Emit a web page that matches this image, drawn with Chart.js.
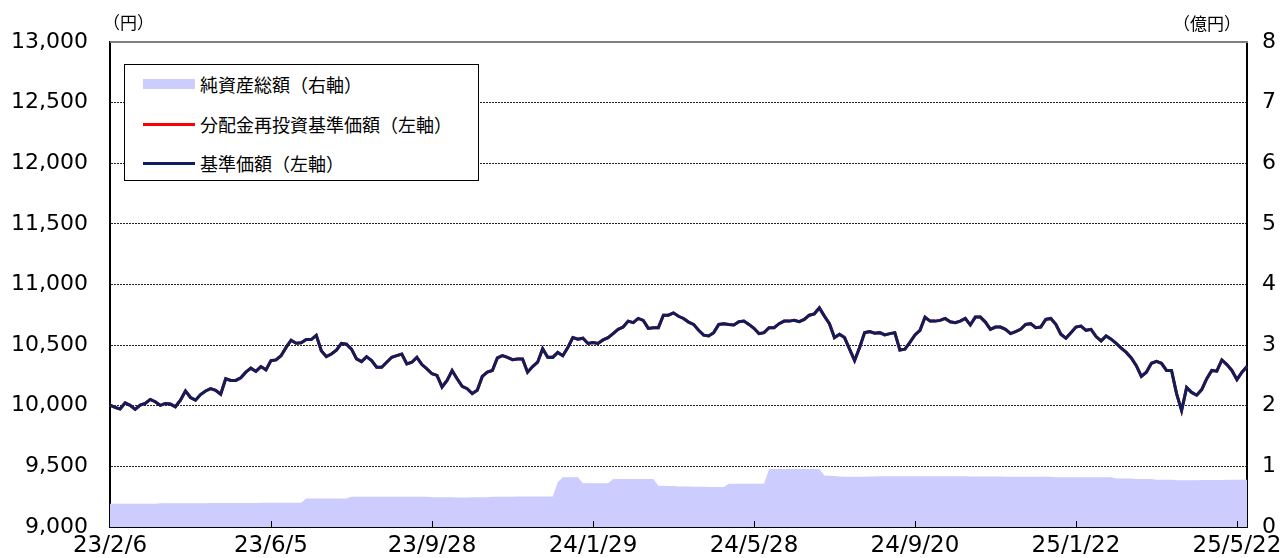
<!DOCTYPE html>
<html lang="ja">
<head>
<meta charset="utf-8">
<title>基準価額・純資産総額の推移</title>
<script src="https://cdn.jsdelivr.net/npm/chart.js@4/dist/chart.umd.min.js"></script>
<style>
  body { margin: 0; background: #fff; }
  #wrap { position: relative; width: 1282px; height: 558px; }
  .unit { position: absolute; font: 17px "Noto Sans CJK JP", sans-serif; color: #000; }
  #legend {
    position: absolute; left: 124px; top: 64px; width: 353px; height: 115px;
    border: 1px solid #000; background: #fff;
    font: 18px "Noto Sans CJK JP", sans-serif; color: #000;
  }
  #legend .row { position: absolute; left: 18px; height: 26px; display: flex; align-items: center; }
  #legend .sw { width: 52px; margin-right: 5px; }
</style>
</head>
<body>
<div id="wrap">
  <canvas id="chart" width="1282" height="558"></canvas>
  <div class="unit" style="left:103px; top:9px;">（円）</div>
  <div class="unit" style="left:1173px; top:10px;">（億円）</div>
  <div id="legend"></div>
</div>
<script>
const tickLabels = ["23/2/6", "23/6/5", "23/9/28", "24/1/29", "24/5/28", "24/9/20", "25/1/22", "25/5/22"]
const tickEvery = 32
const pointCount = 227

// 基準価額 (円), roughly every 2-3 business days
const navValues = [
  10005, 9986, 9973, 10024, 10003, 9970, 10005, 10019, 10052, 10033,
  10003, 10019, 10014, 9992, 10046, 10122, 10068, 10046, 10092, 10122,
  10141, 10128, 10095, 10223, 10209, 10209, 10231, 10277, 10310, 10283,
  10323, 10296, 10372, 10378, 10413, 10481, 10541, 10516, 10519, 10546,
  10546, 10581, 10454, 10405, 10427, 10459, 10514, 10508, 10467, 10386,
  10364, 10405, 10372, 10318, 10318, 10359, 10400, 10413, 10427, 10345,
  10359, 10399, 10340, 10304, 10264, 10250, 10155, 10209, 10291, 10223,
  10160, 10141, 10101, 10128, 10242, 10277, 10291, 10394, 10413, 10399,
  10380, 10386, 10386, 10277, 10323, 10359, 10470, 10400, 10399, 10440,
  10413, 10481, 10562, 10549, 10557, 10514, 10522, 10514, 10543, 10562,
  10595, 10630, 10649, 10698, 10685, 10720, 10704, 10638, 10644, 10644,
  10747, 10747, 10766, 10738, 10720, 10690, 10671, 10622, 10582, 10576,
  10603, 10671, 10677, 10671, 10666, 10693, 10698, 10671, 10639, 10595,
  10603, 10644, 10644, 10677, 10698, 10698, 10704, 10693, 10712, 10747,
  10758, 10807, 10739, 10677, 10562, 10590, 10562, 10467, 10372, 10481,
  10603, 10611, 10598, 10603, 10584, 10595, 10603, 10459, 10467, 10522,
  10584, 10622, 10730, 10698, 10698, 10704, 10720, 10693, 10685, 10698,
  10720, 10666, 10731, 10731, 10690, 10630, 10649, 10649, 10630, 10595,
  10611, 10630, 10671, 10677, 10644, 10649, 10712, 10720, 10671, 10590,
  10557, 10603, 10649, 10657, 10622, 10630, 10571, 10535, 10576, 10549,
  10514, 10475, 10440, 10394, 10331, 10242, 10277, 10350, 10367, 10350,
  10291, 10291, 10100, 9960, 10150, 10110, 10087, 10133, 10223, 10291,
  10285, 10378, 10340, 10291, 10215, 10277, 10323
]
// 分配金再投資基準価額 — no distributions, same as 基準価額
const reinvestValues = navValues.slice()

// 純資産総額 (億円)
const assetValues = [
  0.385, 0.385, 0.385, 0.385, 0.385, 0.385, 0.385, 0.385, 0.385, 0.385,
  0.39, 0.39, 0.39, 0.39, 0.39, 0.39, 0.39, 0.39, 0.39, 0.39,
  0.395, 0.395, 0.395, 0.395, 0.395, 0.395, 0.395, 0.395, 0.395, 0.395,
  0.40, 0.40, 0.40, 0.40, 0.40, 0.40, 0.40, 0.40, 0.40,
  0.47, 0.47, 0.47, 0.47, 0.47, 0.47, 0.47, 0.47, 0.47,
  0.50, 0.50, 0.50, 0.50, 0.50, 0.50, 0.50, 0.50, 0.50, 0.50, 0.50, 0.50, 0.50, 0.50, 0.50, 0.50,
  0.49, 0.49, 0.49, 0.49, 0.49, 0.485, 0.485, 0.485, 0.49, 0.49, 0.49, 0.49,
  0.50, 0.50, 0.50, 0.50, 0.50, 0.505, 0.505, 0.505, 0.505, 0.505, 0.505, 0.505, 0.505,
  0.74,
  0.82, 0.82, 0.82, 0.82,
  0.72, 0.72, 0.72, 0.72, 0.72, 0.72,
  0.79, 0.79, 0.79, 0.79, 0.79, 0.79, 0.79, 0.79, 0.79,
  0.68, 0.68, 0.675, 0.675, 0.67, 0.67, 0.67, 0.665, 0.665, 0.665, 0.66, 0.66, 0.66, 0.66,
  0.715, 0.715, 0.715, 0.715, 0.715, 0.715, 0.715, 0.715,
  0.955, 0.955, 0.955, 0.955, 0.955, 0.955, 0.955, 0.955, 0.955, 0.955, 0.955,
  0.85, 0.845, 0.84, 0.835, 0.83,
  0.83, 0.83, 0.83, 0.83,
  0.835, 0.835, 0.838, 0.838, 0.838, 0.838, 0.838, 0.838, 0.838, 0.838,
  0.838, 0.838, 0.838, 0.838, 0.838, 0.838, 0.838, 0.838, 0.838, 0.838,
  0.835, 0.835, 0.835, 0.835, 0.835, 0.835, 0.835, 0.83, 0.83, 0.83,
  0.83, 0.83, 0.83, 0.83, 0.83, 0.83, 0.83,
  0.82, 0.82, 0.82, 0.82, 0.82, 0.82, 0.82, 0.82, 0.82, 0.82, 0.82, 0.82,
  0.80, 0.80, 0.80, 0.80, 0.79, 0.79, 0.79, 0.79, 0.78, 0.78, 0.78, 0.78,
  0.77, 0.77, 0.77, 0.77, 0.77, 0.775, 0.775, 0.775, 0.775, 0.775, 0.78, 0.78, 0.78, 0.78, 0.78
]

const labels = []
for (let i = 0; i < pointCount; i++) {
  labels.push(i % tickEvery === 0 ? tickLabels[i / tickEvery] : "")
}

const numFont = { family: "DejaVu Sans", size: 22 }
const dateFont = { family: "DejaVu Sans", size: 23 }

// small upward tick marks on the date axis + grey top frame
const frame = {
  id: "frame",
  afterDatasetsDraw(chart) {
    const { ctx, chartArea: a, scales } = chart
    ctx.save()
    ctx.strokeStyle = "#808080"
    ctx.lineWidth = 2
    ctx.beginPath()
    ctx.moveTo(a.left, a.top)
    ctx.lineTo(a.right + 1, a.top)
    ctx.stroke()
    ctx.strokeStyle = "#000"
    ctx.lineWidth = 1
    labels.forEach((l, i) => {
      if (!l || i === 0) return
      const x = Math.round(scales.x.getPixelForValue(i)) + 0.5
      ctx.beginPath()
      ctx.moveTo(x, a.bottom)
      ctx.lineTo(x, a.bottom - 6)
      ctx.stroke()
    })
    ctx.restore()
  },
}

// keep the plot box fixed: no extra room for overhanging tick labels
const noOverhang = (s) => {
  s.paddingTop = 0
  s.paddingBottom = 0
  s.paddingLeft = 0
  s.paddingRight = 0
}

const chart = new Chart(document.getElementById("chart"), {
  type: "line",
  data: {
    labels: labels,
    datasets: [
      {
        label: "純資産総額（右軸）",
        data: assetValues,
        yAxisID: "y1",
        fill: "origin",
        backgroundColor: "#ccccff",
        borderWidth: 0,
        pointRadius: 0,
        order: 3,
      },
      {
        label: "分配金再投資基準価額（左軸）",
        data: reinvestValues,
        yAxisID: "y",
        borderColor: "#ff0000",
        borderWidth: 3,
        pointRadius: 0,
        fill: false,
        order: 2,
      },
      {
        label: "基準価額（左軸）",
        data: navValues,
        yAxisID: "y",
        borderColor: "#0c1f5c",
        borderWidth: 3,
        pointRadius: 0,
        fill: false,
        order: 1,
      },
    ],
  },
  options: {
    responsive: false,
    animation: false,
    events: [],
    layout: { padding: { top: 42, left: 0, right: 0, bottom: 0 } },
    plugins: { legend: { display: false }, tooltip: { enabled: false } },
    scales: {
      x: {
        offset: false,
        grid: { display: false, drawTicks: false },
        border: { display: true, color: "#000", width: 2 },
        ticks: {
          autoSkip: false,
          maxRotation: 0,
          minRotation: 0,
          padding: 5,
          color: "#000",
          font: dateFont,
          callback: (v, i) => labels[i] || null,
        },
        afterFit: (s) => { noOverhang(s); s.height = 31 },
      },
      y: {
        position: "left",
        min: 9000,
        max: 13000,
        grid: {
          drawTicks: false,
          lineWidth: 1,
          color: (c) => (c.tick && (c.tick.value === 9000 || c.tick.value === 13000)) ? "rgba(0,0,0,0)" : "#222",
        },
        border: { display: true, color: "#000", width: 2, dash: [2, 1] },
        ticks: {
          stepSize: 500,
          padding: 22,
          color: "#000",
          font: numFont,
          callback: (v) => v.toLocaleString("en-US"),
        },
        afterFit: (s) => { noOverhang(s); s.width = 110 },
      },
      y1: {
        position: "right",
        min: 0,
        max: 8,
        grid: { drawOnChartArea: false, drawTicks: false },
        border: { display: true, color: "#000", width: 2 },
        ticks: { stepSize: 1, padding: 15, color: "#000", font: numFont },
        afterFit: (s) => { noOverhang(s); s.width = 35 },
      },
    },
  },
  plugins: [frame],
})

// legend box inside the plot, built from the datasets
const legend = document.getElementById("legend")
const rowTops = [6, 46, 85]
const legendOrder = [0, 1, 2]
legendOrder.forEach((di, k) => {
  const ds = chart.data.datasets[di]
  const row = document.createElement("div")
  row.className = "row"
  row.style.top = rowTops[k] + "px"
  const sw = document.createElement("div")
  sw.className = "sw"
  if (ds.fill) {
    sw.style.height = "10px"
    sw.style.background = ds.backgroundColor
  } else {
    sw.style.height = "3px"
    sw.style.background = ds.borderColor
  }
  const txt = document.createElement("span")
  txt.textContent = ds.label
  row.appendChild(sw)
  row.appendChild(txt)
  legend.appendChild(row)
})
</script>
</body>
</html>
